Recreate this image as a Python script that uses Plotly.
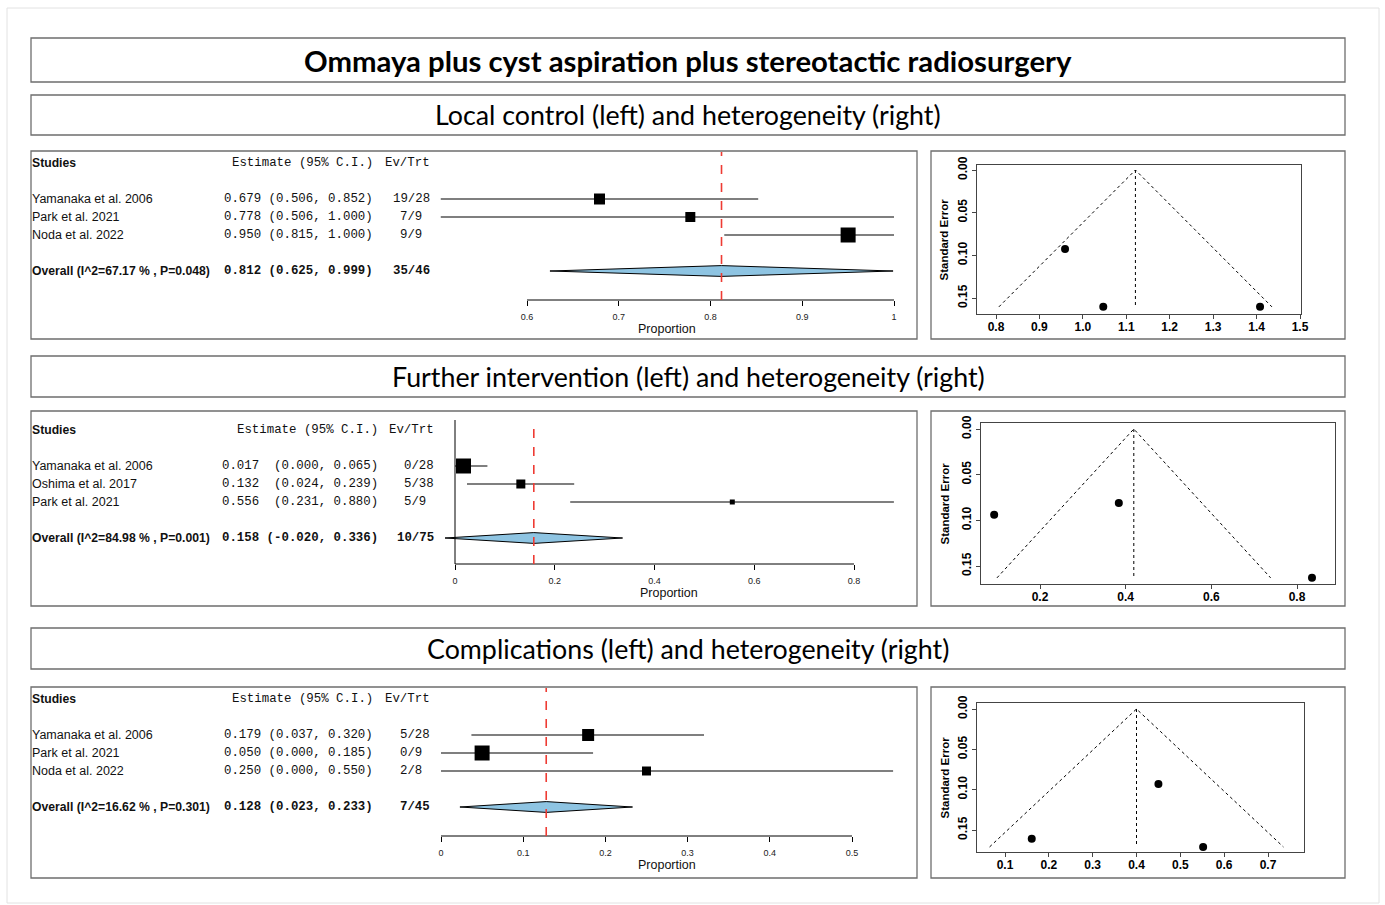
import plotly.graph_objects as go

W, H = 1385, 905

# ------------------------------------------------------------------ data
MAIN_TITLE = "Ommaya plus cyst aspiration plus stereotactic radiosurgery"
SECTION_TITLES = [
    "Local control (left) and heterogeneity (right)",
    "Further intervention (left) and heterogeneity (right)",
    "Complications (left) and heterogeneity (right)",
]

# Local control – forest
lc_studies = ["Yamanaka et al. 2006", "Park et al. 2021", "Noda et al. 2022"]
lc_est = [0.679, 0.778, 0.950]
lc_lo = [0.506, 0.506, 0.815]
lc_hi = [0.852, 1.000, 1.000]
lc_events = [19, 7, 9]
lc_totals = [28, 9, 9]
lc_overall = [0.812, 0.625, 0.999]
lc_overall_label = "Overall (I^2=67.17 % , P=0.048)"
lc_ticks = [0.6, 0.7, 0.8, 0.9, 1.0]
lc_ticktext = ["0.6", "0.7", "0.8", "0.9", "1"]
# Local control – funnel
lc_fun_x = [0.959, 1.047, 1.408]
lc_fun_se = [0.0925, 0.1604, 0.1604]
lc_fun_center = 1.121
lc_fun_xticks = [0.8, 0.9, 1.0, 1.1, 1.2, 1.3, 1.4, 1.5]

# Further intervention – forest
fi_studies = ["Yamanaka et al. 2006", "Oshima et al. 2017", "Park et al. 2021"]
fi_est = [0.017, 0.132, 0.556]
fi_lo = [0.000, 0.024, 0.231]
fi_hi = [0.065, 0.239, 0.880]
fi_events = [0, 5, 5]
fi_totals = [28, 38, 9]
fi_overall = [0.158, -0.020, 0.336]
fi_overall_label = "Overall (I^2=84.98 % , P=0.001)"
fi_ticks = [0, 0.2, 0.4, 0.6, 0.8]
fi_ticktext = ["0", "0.2", "0.4", "0.6", "0.8"]
# Further intervention – funnel
fi_fun_x = [0.093, 0.384, 0.835]
fi_fun_se = [0.094, 0.081, 0.163]
fi_fun_center = 0.419
fi_fun_xticks = [0.2, 0.4, 0.6, 0.8]

# Complications – forest
co_studies = ["Yamanaka et al. 2006", "Park et al. 2021", "Noda et al. 2022"]
co_est = [0.179, 0.050, 0.250]
co_lo = [0.037, 0.000, 0.000]
co_hi = [0.320, 0.185, 0.550]
co_events = [5, 0, 2]
co_totals = [28, 9, 8]
co_overall = [0.128, 0.023, 0.233]
co_overall_label = "Overall (I^2=16.62 % , P=0.301)"
co_ticks = [0, 0.1, 0.2, 0.3, 0.4, 0.5]
co_ticktext = ["0", "0.1", "0.2", "0.3", "0.4", "0.5"]
# Complications – funnel
co_fun_x = [0.161, 0.450, 0.552]
co_fun_se = [0.161, 0.093, 0.171]
co_fun_center = 0.400
co_fun_xticks = [0.1, 0.2, 0.3, 0.4, 0.5, 0.6, 0.7]

FUN_YTICKS = [0.0, 0.05, 0.10, 0.15]
Z95 = 1.96

# ------------------------------------------------------------------ layout / style
SANS = "Liberation Sans, Arial, sans-serif"
MONO = "Liberation Mono, Courier New, monospace"
TITLE_FONT = "Lato, Calibri, sans-serif"
BOX_COLOR = "#6e6e6e"
DIAMOND_FILL = "#8EC4E2"
RED = "#EE3B33"

TITLE_BOXES = [(31, 38, 1345, 82), (31, 95, 1345, 135), (31, 356, 1345, 397), (31, 628, 1345, 669)]
TITLE_SIZES = [29.3, 26.8, 26.8, 26.8]
FOREST_BOX = [(31, 151, 917, 339), (31, 411, 917, 606), (31, 687, 917, 878)]
FUNNEL_BOX = [(931, 151, 1345, 339), (931, 411, 1345, 606), (931, 687, 1345, 878)]
ROW_PX = 18
HEADER_Y = [163, 430, 699]
AXIS_Y = [300, 564, 836]
TOP_Y = [152, 420, 688]
FOREST_DOM_X = (435, 905)
FOREST_XMAP = [((0.6, 527), (1.0, 894)), ((0.0, 455), (0.8, 854)), ((0.0, 441), (0.5, 852))]
NAME_X = 30
EST_RIGHT = [375, 380, 375]
EV_RIGHT = [432, 436, 432]
SQUARE_PX = [[11, 10, 15], [15, 9, 5], [12, 15, 9]]
NULL_LINE = [False, True, False]
DIAMOND_HALF = 0.3
MONO_SIZE = 12.4
SANS_SIZE = 12.5
BOLD_SIZE = 12.2

FUNNEL_PLOT = [(977, 165, 1301, 314), (981, 423, 1335, 584), (977, 703, 1304, 852)]
FUNNEL_XMAP = [((0.8, 996), (1.5, 1300)), ((0.2, 1040), (0.8, 1297)), ((0.1, 1005), (0.7, 1268))]
FUNNEL_YMAP = [((0.0, 170), (0.15, 298)), ((0.0, 429), (0.15, 566)), ((0.0, 709), (0.15, 830))]
SE_LABEL_X = 944

forests = [
    dict(studies=lc_studies, est=lc_est, lo=lc_lo, hi=lc_hi, ev=lc_events, n=lc_totals,
         overall=lc_overall, label=lc_overall_label, ticks=lc_ticks, ticktext=lc_ticktext),
    dict(studies=fi_studies, est=fi_est, lo=fi_lo, hi=fi_hi, ev=fi_events, n=fi_totals,
         overall=fi_overall, label=fi_overall_label, ticks=fi_ticks, ticktext=fi_ticktext),
    dict(studies=co_studies, est=co_est, lo=co_lo, hi=co_hi, ev=co_events, n=co_totals,
         overall=co_overall, label=co_overall_label, ticks=co_ticks, ticktext=co_ticktext),
]
funnels = [
    dict(x=lc_fun_x, se=lc_fun_se, c=lc_fun_center, xt=lc_fun_xticks),
    dict(x=fi_fun_x, se=fi_fun_se, c=fi_fun_center, xt=fi_fun_xticks),
    dict(x=co_fun_x, se=co_fun_se, c=co_fun_center, xt=co_fun_xticks),
]


def px_x(p):
    return p / W


def px_y(p):
    return 1 - p / H


def val_at(mapping, p):
    (va, pa), (vb, pb) = mapping
    return va + (p - pa) * (vb - va) / (pb - pa)


def names(n):
    s = "" if n == 1 else str(n)
    return "xaxis" + s, "yaxis" + s, "x" + s, "y" + s


def nb(s):
    return s.replace(" ", "\u00a0")


fig = go.Figure()
shapes, annotations = [], []
layout_axes = {}

shapes.append(dict(type="rect", xref="paper", yref="paper", x0=px_x(7), x1=px_x(1379),
                   y0=px_y(903), y1=px_y(8), line=dict(color="#e2e2e2", width=1)))

for (x0, y0, x1, y1) in TITLE_BOXES + FOREST_BOX + FUNNEL_BOX:
    shapes.append(dict(type="rect", xref="paper", yref="paper", x0=px_x(x0), x1=px_x(x1),
                       y0=px_y(y1), y1=px_y(y0), line=dict(color=BOX_COLOR, width=1.3)))

titles = [(MAIN_TITLE, True)] + [(t, False) for t in SECTION_TITLES]
for (text, bold), (x0, y0, x1, y1), sz in zip(titles, TITLE_BOXES, TITLE_SIZES):
    annotations.append(dict(text=f"<b>{text}</b>" if bold else text, xref="paper", yref="paper",
                            x=px_x((x0 + x1) / 2), y=px_y((y0 + y1) / 2), showarrow=False,
                            xanchor="center", yanchor="middle",
                            font=dict(family=TITLE_FONT, size=sz, color="#000")))

for i, (fp, fn) in enumerate(zip(forests, funnels)):
    # ---------------- forest
    xa, ya, xr, yr = names(2 * i + 1)
    hdr = HEADER_Y[i]
    rows = [2 + k for k in range(len(fp["studies"]))]
    orow = rows[-1] + 2
    d0, d1 = FOREST_DOM_X
    layout_axes[xa] = dict(domain=[px_x(d0), px_x(d1)], anchor=yr,
                           range=[val_at(FOREST_XMAP[i], d0), val_at(FOREST_XMAP[i], d1)],
                           showline=False, showgrid=False, zeroline=False, ticks="outside",
                           ticklen=5, tickwidth=1, tickcolor="#000", tickvals=fp["ticks"],
                           ticktext=fp["ticktext"], ticklabelstandoff=3, automargin=False,
                           tickfont=dict(family=SANS, size=9, color="#222"))
    layout_axes[ya] = dict(domain=[px_y(AXIS_Y[i]), px_y(TOP_Y[i])], anchor=xr,
                           range=[(AXIS_Y[i] - hdr) / ROW_PX, (TOP_Y[i] - hdr) / ROW_PX],
                           visible=False, showgrid=False, zeroline=False, automargin=False)
    shapes.append(dict(type="line", xref=xr, yref=yr + " domain", x0=min(fp["ticks"]),
                       x1=max(fp["ticks"]), y0=0, y1=0, line=dict(color="#000", width=1)))
    if NULL_LINE[i]:
        shapes.append(dict(type="line", xref=xr, yref=yr + " domain", x0=0, x1=0, y0=0, y1=1,
                           line=dict(color="#000", width=1)))
    cx, cy = [], []
    for lo, hi, r in zip(fp["lo"], fp["hi"], rows):
        cx += [lo, hi, None]
        cy += [r, r, None]
    fig.add_trace(go.Scatter(x=cx, y=cy, mode="lines", line=dict(color="#000", width=1.2),
                             xaxis=xr, yaxis=yr, hoverinfo="skip", showlegend=False))
    fig.add_trace(go.Scatter(x=fp["est"], y=rows, mode="markers",
                             marker=dict(symbol="square", color="#000", size=SQUARE_PX[i],
                                         line=dict(width=0), opacity=1),
                             xaxis=xr, yaxis=yr, showlegend=False))
    oe, ol, oh = fp["overall"]
    fig.add_trace(go.Scatter(x=[ol, oe, oh, oe, ol],
                             y=[orow, orow - DIAMOND_HALF, orow, orow + DIAMOND_HALF, orow],
                             mode="lines", fill="toself", fillcolor=DIAMOND_FILL,
                             line=dict(color="#000", width=1), xaxis=xr, yaxis=yr,
                             showlegend=False, hoverinfo="skip"))
    shapes.append(dict(type="line", xref=xr, yref=yr + " domain", x0=oe, x1=oe, y0=0, y1=1,
                       line=dict(color=RED, width=1.6, dash="dash")))
    xmin = min(fp["lo"] + [ol])
    xmax = max(fp["hi"] + [oh])
    annotations.append(dict(text="Proportion", xref=xr, yref="paper", x=(xmin + xmax) / 2,
                            y=px_y(AXIS_Y[i] + 28.5), showarrow=False, xanchor="center",
                            yanchor="middle", font=dict(family=SANS, size=12.5, color="#111")))
    cis = [f"({l:.3f}, {h:.3f})" for l, h in zip(fp["lo"] + [ol], fp["hi"] + [oh])]
    wci = max(len(c) for c in cis)
    ests = [f"{e:.3f} " + c.rjust(wci) for e, c in zip(fp["est"] + [oe], cis)]
    evs = [f"{e}/{n}".ljust(4) for e, n in zip(fp["ev"] + [sum(fp["ev"])], fp["n"] + [sum(fp["n"])])]

    def txt(text, px, row, anchor, family, size, bold=False):
        annotations.append(dict(text=f"<b>{text}</b>" if bold else text, xref="paper", yref=yr,
                                x=px_x(px), y=row, showarrow=False, xanchor=anchor,
                                yanchor="middle",
                                font=dict(family=family, size=size, color="#111")))

    txt("Studies", NAME_X, 0, "left", SANS, BOLD_SIZE, True)
    txt(nb("Estimate (95% C.I.)"), EST_RIGHT[i], 0, "right", MONO, MONO_SIZE)
    txt("Ev/Trt", EV_RIGHT[i], 0, "right", MONO, MONO_SIZE)
    for k, r in enumerate(rows):
        txt(fp["studies"][k], NAME_X, r, "left", SANS, SANS_SIZE)
        txt(nb(ests[k]), EST_RIGHT[i], r, "right", MONO, MONO_SIZE)
        txt(nb(evs[k]), EV_RIGHT[i], r, "right", MONO, MONO_SIZE)
    txt(fp["label"], NAME_X, orow, "left", SANS, BOLD_SIZE, True)
    txt(nb(ests[-1]), EST_RIGHT[i], orow, "right", MONO, MONO_SIZE, True)
    txt(nb(evs[-1]), EV_RIGHT[i], orow, "right", MONO, MONO_SIZE, True)

    # ---------------- funnel
    xa, ya, xr, yr = names(2 * i + 2)
    x0, y0, x1, y1 = FUNNEL_PLOT[i]
    layout_axes[xa] = dict(domain=[px_x(x0), px_x(x1)], anchor=yr,
                           range=[val_at(FUNNEL_XMAP[i], x0), val_at(FUNNEL_XMAP[i], x1)],
                           showline=True, mirror=True, linecolor="#444", linewidth=1,
                           showgrid=False, zeroline=False, ticks="outside", ticklen=4,
                           tickcolor="#444", tickvals=fn["xt"], tickformat=".1f",
                           ticklabelstandoff=-2, automargin=False,
                           tickfont=dict(family=SANS, size=12, color="#000", weight="bold"))
    layout_axes[ya] = dict(domain=[px_y(y1), px_y(y0)], anchor=xr,
                           range=[val_at(FUNNEL_YMAP[i], y1), val_at(FUNNEL_YMAP[i], y0)],
                           showline=True, mirror=True, linecolor="#444", linewidth=1,
                           showgrid=False, zeroline=False, ticks="outside", ticklen=4,
                           tickcolor="#444", tickvals=FUN_YTICKS, tickformat=".2f",
                           tickangle=-90, automargin=False,
                           tickfont=dict(family=SANS, size=12, color="#000", weight="bold"))
    m = max(fn["se"])
    c = fn["c"]
    fig.add_trace(go.Scatter(x=[c - Z95 * m, c, c + Z95 * m], y=[m, 0, m], mode="lines",
                             line=dict(color="#000", width=1, dash="dot"), xaxis=xr, yaxis=yr,
                             showlegend=False, hoverinfo="skip"))
    fig.add_trace(go.Scatter(x=[c, c], y=[0, m], mode="lines",
                             line=dict(color="#000", width=1, dash="dot"), xaxis=xr, yaxis=yr,
                             showlegend=False, hoverinfo="skip"))
    fig.add_trace(go.Scatter(x=fn["x"], y=fn["se"], mode="markers",
                             marker=dict(color="#000", size=8), xaxis=xr, yaxis=yr,
                             showlegend=False))
    annotations.append(dict(text="<b>Standard Error</b>", xref="paper", yref="paper",
                            x=px_x(SE_LABEL_X), y=px_y((y0 + y1) / 2), textangle=-90,
                            showarrow=False, xanchor="center", yanchor="middle",
                            font=dict(family=SANS, size=11.5, color="#000")))

fig.update_layout(width=W, height=H, autosize=False,
                  margin=dict(l=0, r=0, t=0, b=0, pad=0, autoexpand=False),
                  paper_bgcolor="white", plot_bgcolor="white", showlegend=False,
                  shapes=shapes, annotations=annotations, **layout_axes)

fig.write_html("out.html", config={"displayModeBar": False, "responsive": False},
               post_script="document.body.style.margin='0';document.body.style.overflow='hidden';")
